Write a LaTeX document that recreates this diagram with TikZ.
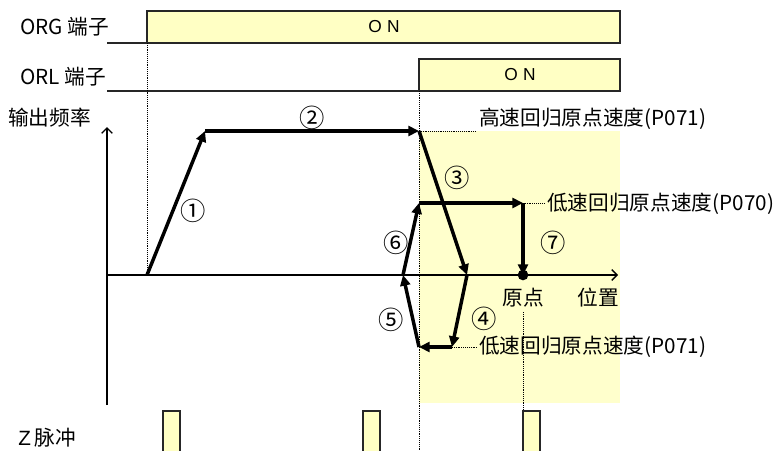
\documentclass[tikz,border=0pt]{standalone}
\usepackage{fontspec}
\setmainfont{Noto Sans CJK SC}
\newfontfamily\onfont{Liberation Sans}
\usetikzlibrary{arrows.meta}
\definecolor{onfill}{RGB}{255,255,196}
\definecolor{zonefill}{RGB}{255,255,204}

\begin{document}
\begin{tikzpicture}[
    x=0.75pt, y=-0.75pt,
    every node/.style={inner sep=0pt, font=\fontsize{15.5}{17}\selectfont},
    sig box/.style={draw=black!85, line width=1.2pt, fill=onfill},
    sig line/.style={draw=black!85, line width=1.2pt},
    guide line/.style={densely dotted, line width=0.4pt},
    axis line/.style={line width=1pt, -{Straight Barb[length=4pt,width=8pt]}},
    move arrow/.style={line width=2.6pt, -{Triangle[length=8pt,width=7.5pt]}},
    step label/.style={font=\fontsize{19}{20}\selectfont, anchor=center},
    speed label/.style={anchor=west},
    on label/.style={font=\onfont\fontsize{13}{15}\selectfont}
]
\useasboundingbox (0,0) rectangle (780,450);

%================SIGNALS================
\node[anchor=west] (orgtxt) at (20,27) {ORG 端子};
\node[anchor=west] (orltxt) at (20,77) {ORL 端子};
\draw[sig line] (107,43) -- (147,43);
\draw[sig box] (147,11) rectangle (620,43);
\node[on label] (orgon) at (384,27) {O\hspace{4pt}N};
\draw[sig line] (107,91) -- (419,91);
\draw[sig box] (419,59) rectangle (620,91);
\node[on label] (orlon) at (520,75) {O\hspace{4pt}N};

% shaded zone after ORL turns on
\fill[zonefill] (419,131) rectangle (620,403);

%================AXES================
\coordinate (o) at (107,275);
\coordinate (ytop) at (107,127);
\coordinate (ybot) at (107,405);
\coordinate (xend) at (618,275);
\draw[line width=1pt] (ybot) -- (o);
\draw[axis line] (o) -- (ytop);
\draw[axis line] (o) -- (xend);
\node[anchor=west] (freq) at (8,118) {输出频率};
\node (home) at (523,298) {原点};
\node (pos) at (598,298) {位置};

%================PATH POINTS================
\coordinate (p0) at (147,275);
\coordinate (p1) at (205,131);
\coordinate (p2) at (419,131);
\coordinate (p3) at (467,275);
\coordinate (p4) at (452,347);
\coordinate (p5) at (419,347);
\coordinate (p6) at (403,275);
\coordinate (p7) at (419,203);
\coordinate (p8) at (523,203);
\coordinate (p9) at (523,275);

% guide lines
\draw[guide line] (147,43) -- (p0);
\draw[guide line] (419,91) -- (419,450);
\draw[guide line] (523,312) -- (523,411);
\draw[guide line] (p2) -- (476,131);
\draw[guide line] (p8) -- (545,203);
\draw[guide line] (p4) -- (478,347);

% speed labels
\node[speed label] (hsp) at (479,119) {高速回归原点速度(P071)};
\node[speed label] (lsp0) at (547,204) {低速回归原点速度(P070)};
\node[speed label] (lsp1) at (479,347) {低速回归原点速度(P071)};

% --- motion ---
\draw[move arrow] (p0) -- (p1);
\draw[move arrow] (p1) -- (p2);
\draw[move arrow] (p2) -- (p3);
\draw[move arrow] (p3) -- (p4);
\draw[move arrow] (p4) -- (p5);
\draw[move arrow] (p5) -- (p6);
\draw[move arrow] (p6) -- (p7);
\draw[move arrow] (p7) -- (p8);
\draw[move arrow] (p8) -- (p9);
\fill (p9) circle (4pt);

\node[step label] (s1) at (193,211) {①};
\node[step label] (s2) at (312,118) {②};
\node[step label] (s3) at (457,178) {③};
\node[step label] (s4) at (484,319) {④};
\node[step label] (s5) at (391,320) {⑤};
\node[step label] (s6) at (396,243) {⑥};
\node[step label] (s7) at (553,243) {⑦};

%================Z PULSES================
\node[anchor=west] (ztxt) at (18,438) {{\onfont Z}\,脉冲};
\foreach \px in {163,363,523} {
    \fill[onfill] (\px,411) rectangle (\px+17,452);
    \draw[sig line] (\px,452) -- (\px,411) -- (\px+17,411) -- (\px+17,452);
}

\end{tikzpicture}
\end{document}
